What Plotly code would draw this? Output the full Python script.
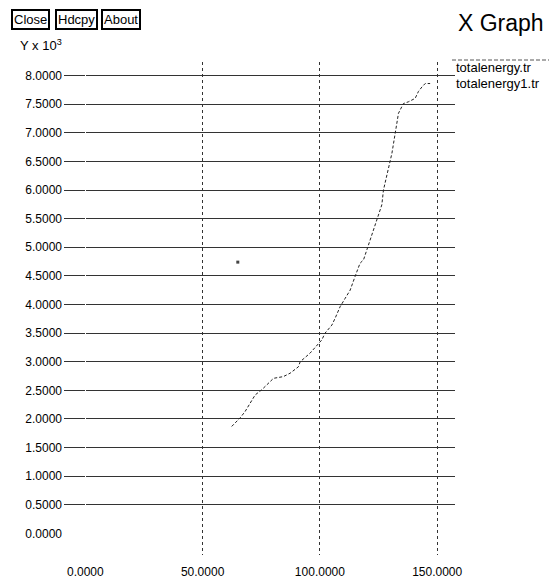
import plotly.graph_objects as go

# ---- data ----
series_names = ["totalenergy.tr", "totalenergy1.tr"]
energy_x = [62.4, 66.0, 68.1, 70.2, 72.4, 75.2, 78.0, 80.2, 84.4, 87.3, 90.8, 91.6,
            95.8, 98.7, 100.8, 102.2, 105.1, 106.5, 107.9, 108.6, 110.8, 112.9, 115.0,
            117.1, 118.6, 120.7, 122.8, 124.9, 126.4, 127.1, 129.2, 130.7, 132.1, 133.5,
            135.6, 137.7, 140.6, 142.0, 143.5, 144.9, 147.0]
energy_y = [1.87, 2.02, 2.13, 2.28, 2.42, 2.51, 2.63, 2.71, 2.74, 2.80, 2.91, 3.00,
            3.15, 3.29, 3.38, 3.50, 3.64, 3.76, 3.90, 3.96, 4.11, 4.25, 4.49,
            4.72, 4.78, 5.04, 5.30, 5.53, 5.74, 6.00, 6.35, 6.64, 6.99, 7.34,
            7.51, 7.54, 7.60, 7.72, 7.80, 7.86, 7.86]
energy1_x = [65.0]
energy1_y = [4.74]

x_ticks = [0, 50, 100, 150]
x_tick_text = ["0.0000", "50.0000", "100.0000", "150.0000"]
y_ticks = [i * 0.5 for i in range(17)]
y_tick_text = ["%.4f" % v for v in y_ticks]
buttons = ["Close", "Hdcpy", "About"]

# ---- layout geometry (screen pixels; page body has an 8px margin) ----
OFF = 8
W, H = 557, 578
PLOT_L, PLOT_R, PLOT_T, PLOT_B = 64, 455, 62, 555      # plot area on screen
L = PLOT_L - OFF
T = PLOT_T - OFF
R = W - (PLOT_R - OFF)
B = H - (PLOT_B - OFF)
PW, PH = PLOT_R - PLOT_L, PLOT_B - PLOT_T


def px(x):
    return (x - PLOT_L) / PW


def py(y):
    return (PLOT_B - y) / PH


FONT = "Liberation Sans, Arial, Helvetica, sans-serif"

fig = go.Figure()
fig.add_trace(go.Scatter(x=energy_x, y=energy_y, name=series_names[0], mode="lines",
                         line=dict(color="#222", width=1, dash="3px,2px"),
                         showlegend=False))
fig.add_trace(go.Scatter(x=energy1_x, y=energy1_y, name=series_names[1], mode="markers",
                         marker=dict(color="#444", size=3, symbol="square"),
                         showlegend=False))

annotations = []
# buttons
btn_centers = [30.5, 76, 121]
for name, cx in zip(buttons, btn_centers):
    annotations.append(dict(text=name, xref="paper", yref="paper", x=px(cx), y=py(20),
                            showarrow=False, xanchor="center", yanchor="middle",
                            font=dict(family=FONT, size=13, color="black"),
                            bordercolor="black", borderwidth=2, borderpad=1,
                            bgcolor="white"))
# title
annotations.append(dict(text="X Graph", xref="paper", yref="paper", x=px(456), y=py(23),
                        showarrow=False, xanchor="left", yanchor="middle",
                        font=dict(family=FONT, size=23, color="black")))
# y unit label
annotations.append(dict(text="Y x 10<sup>3</sup>", xref="paper", yref="paper",
                        x=px(18), y=py(45), showarrow=False, xanchor="left",
                        yanchor="middle", font=dict(family=FONT, size=13, color="black")))
# legend labels
for i, name in enumerate(series_names):
    annotations.append(dict(text=name, xref="paper", yref="paper", x=px(454),
                            y=py(67 + 17 * i), showarrow=False, xanchor="left",
                            yanchor="middle",
                            font=dict(family=FONT, size=13, color="black")))

shapes = [dict(type="line", xref="paper", yref="paper", x0=px(452), x1=px(557),
               y0=py(60), y1=py(60), line=dict(color="#555", width=1, dash="4px,2px"))]

fig.update_layout(
    width=W, height=H,
    margin=dict(l=L, r=R, t=T, b=B, pad=0, autoexpand=False),
    paper_bgcolor="white", plot_bgcolor="white",
    font=dict(family=FONT, size=12, color="black"),
    annotations=annotations, shapes=shapes,
    xaxis=dict(range=[-9.1, 157.6], tickvals=x_ticks, ticktext=x_tick_text,
               showgrid=True, gridcolor="#333", griddash="dot", gridwidth=1,
               zeroline=True, zerolinecolor="white", zerolinewidth=1,
               showline=False, ticks="", ticklabelstandoff=8, automargin=False,
               tickfont=dict(family=FONT, size=12, color="black")),
    yaxis=dict(range=[-0.376, 8.236], tickvals=y_ticks, ticktext=y_tick_text,
               showgrid=True, gridcolor="#333", gridwidth=1,
               zeroline=True, zerolinecolor="white", zerolinewidth=1,
               showline=False, ticks="", ticklabelstandoff=1, automargin=False,
               tickfont=dict(family=FONT, size=12, color="black")),
)

fig.write_html("out.html")
